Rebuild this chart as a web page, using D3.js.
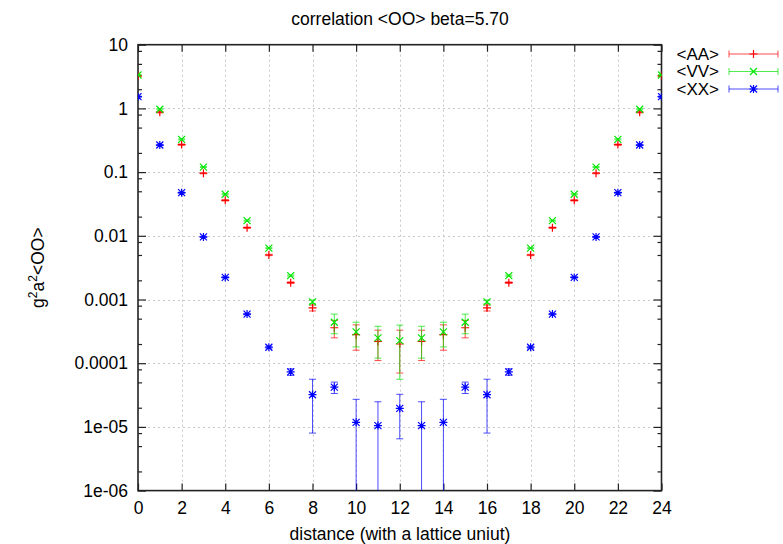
<!DOCTYPE html>
<html>
<head>
<meta charset="utf-8">
<script src="https://cdn.jsdelivr.net/npm/d3@7"></script>
<style>
  body { margin: 0; background: #fff; }
  svg { font-family: "Liberation Sans", Arial, sans-serif; }
</style>
</head>
<body>
<div id="chart"></div>
<script>
var distance = [0,1,2,3,4,5,6,7,8,9,10,11,12,13,14,15,16,17,18,19,20,21,22,23,24];

var aa    = [3.25,0.87,0.27,0.096,0.036,0.0134,0.0050,0.00184,0.00074,0.00036,0.00028,0.00022,0.00020,
             0.00022,0.00028,0.00036,0.00074,0.00184,0.0050,0.0134,0.036,0.096,0.27,0.87,3.25];
var aaErr = [0.05,0.02,0.006,0.002,0.0008,0.0003,0.00012,0.00005,0.00008,0.00011,0.00012,0.00011,0.00013,
             0.00011,0.00012,0.00011,0.00008,0.00005,0.00012,0.0003,0.0008,0.002,0.006,0.02,0.05];

var vv    = [3.35,0.97,0.327,0.12,0.0449,0.0173,0.0064,0.00237,0.00092,0.00044,0.00031,0.00025,0.000226,
             0.00025,0.00031,0.00044,0.00092,0.00237,0.0064,0.0173,0.0449,0.12,0.327,0.97,3.35];
var vvErr = [0.05,0.02,0.006,0.002,0.0008,0.0003,0.0001,0.00005,0.00006,0.00015,0.00013,0.00013,0.00017,
             0.00013,0.00013,0.00015,0.00006,0.00005,0.0001,0.0003,0.0008,0.002,0.006,0.02,0.05];

var xx    = [1.53,0.266,0.0475,0.0096,0.00222,0.00059,0.000178,0.000073,0.000032,0.000042,0.0000118,0.0000105,0.0000195,
             0.0000105,0.0000118,0.000042,0.000032,0.000073,0.000178,0.00059,0.00222,0.0096,0.0475,0.266,1.53];
var xxErr = [0.03,0.005,0.001,0.0002,0.00005,0.000015,0.000006,0.0000085,0.000024,0.0000085,0.0000153,0.0000143,0.000013,
             0.0000143,0.0000153,0.0000085,0.000024,0.0000085,0.000006,0.000015,0.00005,0.0002,0.001,0.005,0.03];

var xTicks = [0,2,4,6,8,10,12,14,16,18,20,22,24];
var yTicks = [10,1,0.1,0.01,0.001,0.0001,1e-5,1e-6];
var yTickLabels = ["10","1","0.1","0.01","0.001","0.0001","1e-05","1e-06"];
var yMinor = [8,5,2,0.8,0.5,0.2,0.08,0.05,0.02,0.008,0.005,0.002,0.0008,0.0005,0.0002,
              8e-5,5e-5,2e-5,8e-6,5e-6,2e-6];

var seriesNames = ["<AA>","<VV>","<XX>"];
var seriesColors = ["#ff0000","#00e600","#0000ff"];

var W = 783, H = 544;
var pLeft = 138, pRight = 661.5, pTop = 44.7, pBottom = 490.6;
var fontSize = "17.5px";

var svg = d3.select("#chart").append("svg")
  .attr("width", W)
  .attr("height", H);

var x = d3.scaleLinear().domain([0,24]).range([pLeft, pRight]);
var y = d3.scaleLog().domain([1e-6, 10]).range([pBottom, pTop]);

// grid
var grid = svg.append("g").attr("stroke", "#c8c8c8").attr("stroke-dasharray", "2,3").attr("stroke-width", 1);
grid.selectAll(".gx").data(xTicks.slice(1, -1)).enter().append("line")
  .attr("x1", function(d){ return Math.round(x(d)) + 0.5; })
  .attr("x2", function(d){ return Math.round(x(d)) + 0.5; })
  .attr("y1", pTop).attr("y2", pBottom);
grid.selectAll(".gy").data(yTicks.slice(1, -1)).enter().append("line")
  .attr("y1", function(d){ return Math.round(y(d)) + 0.5; })
  .attr("y2", function(d){ return Math.round(y(d)) + 0.5; })
  .attr("x1", pLeft).attr("x2", pRight);

// axes
function styleAxis(g){
  g.select(".domain").remove();
  g.selectAll("line").attr("stroke", "#222").attr("stroke-width", 1.2);
  g.selectAll("text").attr("fill", "#000").style("font-size", fontSize)
    .style("font-family", "'Liberation Sans', Arial, sans-serif");
}

svg.append("g").attr("transform", "translate(" + pLeft + ",0)")
  .call(d3.axisLeft(y).tickValues(yTicks).tickSize(-8).tickPadding(10)
    .tickFormat(function(d, i){ return yTickLabels[i]; }))
  .call(styleAxis);
svg.append("g").attr("transform", "translate(" + pLeft + ",0)")
  .call(d3.axisLeft(y).tickValues(yMinor).tickSize(-4).tickFormat(""))
  .call(styleAxis);
svg.append("g").attr("transform", "translate(" + pRight + ",0)")
  .call(d3.axisRight(y).tickValues(yTicks).tickSize(-8).tickFormat(""))
  .call(styleAxis);
svg.append("g").attr("transform", "translate(" + pRight + ",0)")
  .call(d3.axisRight(y).tickValues(yMinor).tickSize(-4).tickFormat(""))
  .call(styleAxis);
svg.append("g").attr("transform", "translate(0," + pBottom + ")")
  .call(d3.axisBottom(x).tickValues(xTicks).tickSize(-7).tickPadding(11).tickFormat(d3.format("d")))
  .call(styleAxis);
svg.append("g").attr("transform", "translate(0," + pTop + ")")
  .call(d3.axisTop(x).tickValues(xTicks).tickSize(-7).tickFormat(""))
  .call(styleAxis);

svg.append("rect")
  .attr("x", pLeft).attr("y", pTop)
  .attr("width", pRight - pLeft).attr("height", pBottom - pTop)
  .attr("fill", "none").attr("stroke", "#222").attr("stroke-width", 1.6);

// data
svg.append("clipPath").attr("id", "plotclip").append("rect")
  .attr("x", pLeft).attr("y", pTop).attr("width", pRight - pLeft).attr("height", pBottom - pTop);

var shapes = [
  "M-4,0H4M0,-4V4",
  "M-3.5,-3.5L3.5,3.5M-3.5,3.5L3.5,-3.5",
  "M-4,0H4M0,-4V4M-3.5,-3.5L3.5,3.5M-3.5,3.5L3.5,-3.5"
];

function drawSeries(vals, errs, k){
  var rows = distance.map(function(d, i){ return {d: d, v: vals[i], e: errs[i]}; });
  var g = svg.append("g").attr("clip-path", "url(#plotclip)");
  var col = seriesColors[k];
  var lo = function(r){ return y(Math.max(r.v - r.e, 1e-8)); };
  var hi = function(r){ return y(r.v + r.e); };

  var bars = g.selectAll(".eb").data(rows).enter().append("g")
    .attr("stroke", col).attr("stroke-width", 1).attr("stroke-opacity", 0.7);
  bars.append("line")
    .attr("x1", function(r){ return x(r.d); }).attr("x2", function(r){ return x(r.d); })
    .attr("y1", lo).attr("y2", hi);
  bars.append("line")
    .attr("x1", function(r){ return x(r.d) - 3.5; }).attr("x2", function(r){ return x(r.d) + 3.5; })
    .attr("y1", lo).attr("y2", lo);
  bars.append("line")
    .attr("x1", function(r){ return x(r.d) - 3.5; }).attr("x2", function(r){ return x(r.d) + 3.5; })
    .attr("y1", hi).attr("y2", hi);

  g.selectAll(".pt").data(rows).enter().append("path")
    .attr("d", shapes[k])
    .attr("transform", function(r){ return "translate(" + x(r.d) + "," + y(r.v) + ")"; })
    .attr("fill", "none").attr("stroke", col).attr("stroke-width", 1.2);
}

drawSeries(aa, aaErr, 0);
drawSeries(vv, vvErr, 1);
drawSeries(xx, xxErr, 2);

// legend
var legend = svg.append("g");
var legY = [54, 71.5, 89];
seriesNames.forEach(function(name, k){
  var ly = legY[k];
  var col = seriesColors[k];
  legend.append("text").attr("x", 719).attr("y", ly).attr("dy", "0.35em")
    .attr("text-anchor", "end").style("font-size", "17px").text(name);
  var lg = legend.append("g").attr("stroke", col).attr("stroke-width", 1).attr("stroke-opacity", 0.7);
  lg.append("line").attr("x1", 729).attr("x2", 778).attr("y1", ly).attr("y2", ly);
  lg.append("line").attr("x1", 729).attr("x2", 729).attr("y1", ly - 3.5).attr("y2", ly + 3.5);
  lg.append("line").attr("x1", 778).attr("x2", 778).attr("y1", ly - 3.5).attr("y2", ly + 3.5);
  legend.append("path").attr("d", shapes[k])
    .attr("transform", "translate(753.5," + ly + ")")
    .attr("fill", "none").attr("stroke", col).attr("stroke-width", 1.2);
});

// titles
svg.append("text").attr("x", 400).attr("y", 25).attr("text-anchor", "middle")
  .style("font-size", fontSize).text("correlation <OO> beta=5.70");

svg.append("text").attr("x", 400).attr("y", 540).attr("text-anchor", "middle")
  .style("font-size", fontSize).text("distance (with a lattice uniut)");

var yl = svg.append("text")
  .attr("transform", "translate(44," + ((pTop + pBottom) / 2) + ") rotate(-90)")
  .attr("text-anchor", "middle").style("font-size", fontSize);
yl.append("tspan").text("g");
yl.append("tspan").attr("baseline-shift", "super").style("font-size", "12px").text("2");
yl.append("tspan").text("a");
yl.append("tspan").attr("baseline-shift", "super").style("font-size", "12px").text("2");
yl.append("tspan").text("<OO>");
</script>
</body>
</html>
